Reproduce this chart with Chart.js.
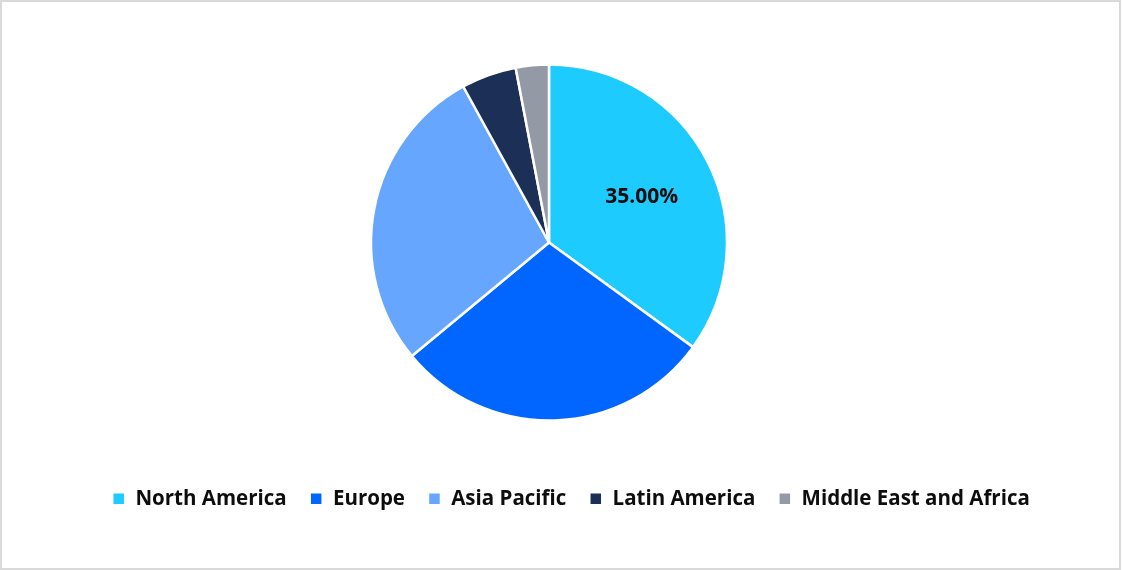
<!DOCTYPE html>
<html>
<head>
<meta charset="utf-8">
<script src="https://cdn.jsdelivr.net/npm/chart.js@4.4.1/dist/chart.umd.min.js"></script>
<style>
  html, body { margin: 0; padding: 0; background: #fff; }
  #frame { position: absolute; left: 0; top: 0; width: 1117px; height: 566px; border: 2px solid #d9d9d9; }
  #wrap { position: absolute; left: 0; top: 0; width: 1122px; height: 570px; }
</style>
</head>
<body>
<div id="frame"></div>
<div id="wrap"><canvas id="c"></canvas></div>
<script>
const categories = ["North America", "Europe", "Asia Pacific", "Latin America", "Middle East and Africa"];
const shares = [35, 29, 28, 5, 3];
const colors = ["#1ecbff", "#0066ff", "#66a6ff", "#1b2f57", "#9499a6"];
const shownLabels = ["35.00%", "", "", "", ""];

const sliceLabels = {
  id: 'sliceLabels',
  afterDatasetsDraw(chart) {
    const ctx = chart.ctx;
    const meta = chart.getDatasetMeta(0);
    meta.data.forEach((arc, i) => {
      const txt = shownLabels[i];
      if (!txt) return;
      const p = arc.getProps(['x', 'y', 'startAngle', 'endAngle', 'outerRadius'], true);
      const mid = (p.startAngle + p.endAngle) / 2;
      const r = p.outerRadius * 0.585;
      ctx.save();
      ctx.font = "bold 21px 'Open Sans', 'Noto Sans', sans-serif";
      ctx.fillStyle = "#0d0d0d";
      ctx.textAlign = "center";
      ctx.textBaseline = "middle";
      ctx.fillText(txt, p.x + Math.cos(mid) * r, p.y + Math.sin(mid) * r + 1.5);
      ctx.restore();
    });
  }
};

const legendShift = {
  id: 'legendShift',
  afterLayout(chart) {
    const l = chart.legend;
    if (!l) return;
    const w = l.right - l.left;
    l.left = 22;
    l.right = 22 + w;
  }
};

new Chart(document.getElementById('c'), {
  type: 'pie',
  data: {
    labels: categories,
    datasets: [{
      data: shares,
      backgroundColor: colors,
      borderColor: '#ffffff',
      borderWidth: 2.5
    }]
  },
  options: {
    responsive: true,
    maintainAspectRatio: false,
    animation: false,
    radius: 178,
    layout: { padding: { top: 19.5, bottom: 51, left: 0, right: 24 } },
    plugins: {
      tooltip: { enabled: false },
      legend: {
        position: 'bottom',
        labels: {
          boxWidth: 13,
          boxHeight: 13,
          padding: 23,
          color: '#0d0d0d',
          font: { family: "'Open Sans', 'Noto Sans', sans-serif", size: 20.5, weight: 'bold' }
        }
      }
    }
  },
  plugins: [sliceLabels, legendShift]
});
</script>
</body>
</html>
